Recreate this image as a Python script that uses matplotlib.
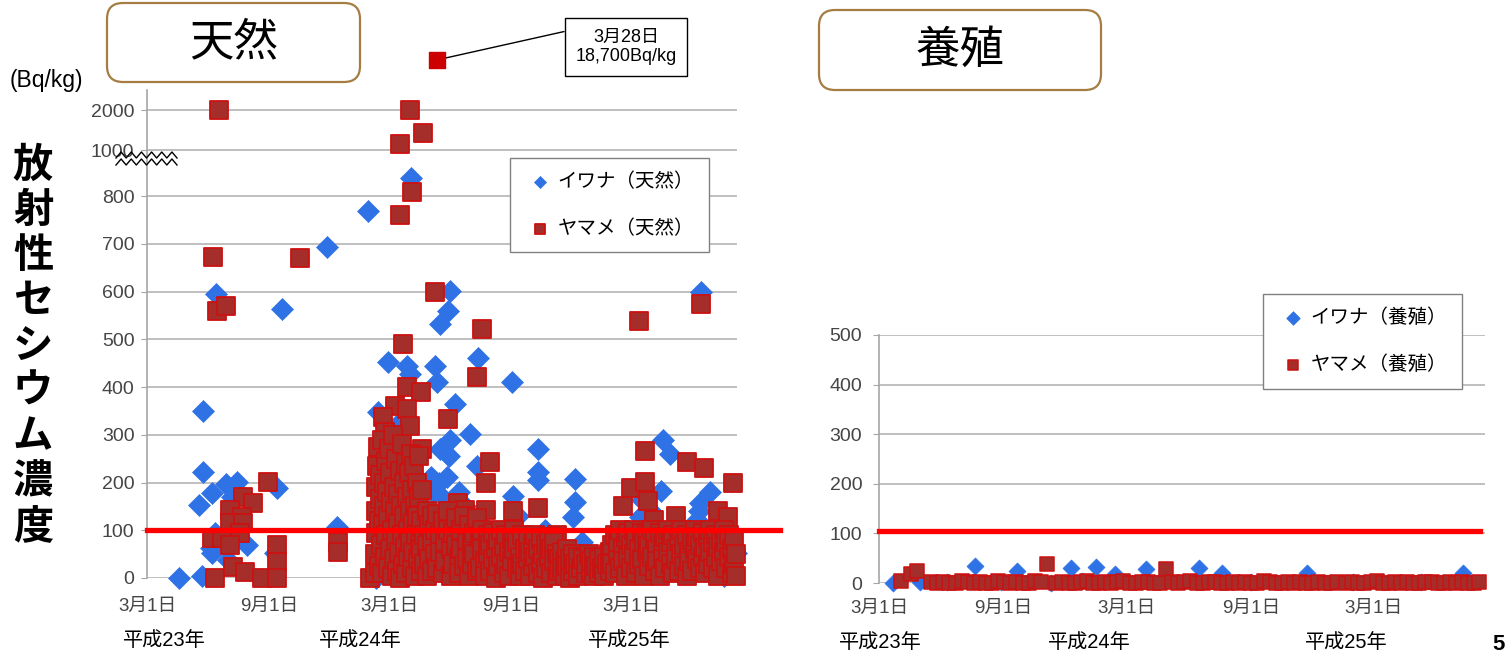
import numpy as np
import matplotlib.pyplot as plt
from matplotlib.lines import Line2D
from matplotlib.patches import FancyBboxPatch

plt.rcParams['font.family'] = ['Liberation Sans', 'Noto Sans CJK JP']

# x = days since 2011-03-01, y = Bq/kg
START = np.datetime64('2011-03-01')
tick_dates = ['2011-03-01', '2011-09-01', '2012-03-01', '2012-09-01', '2013-03-01']
tick_labels = ['3月1日', '9月1日', '3月1日', '9月1日', '3月1日']
year_labels = ['平成23年', '平成24年', '平成25年']

# ---- wild (天然) ----
iwana_wild = [
    # 2011
    (48, 0), (83, 5), (84, 350), (84, 221), (78, 152), (98, 179), (104, 594),
    (98, 52), (96, 62), (103, 95), (119, 196), (136, 202), (128, 170), (122, 38),
    (151, 70), (196, 189), (193, 52), (204, 564), (271, 693), (287, 107),
    # 2012
    (333, 768), (348, 347), (381, 326), (363, 452), (392, 444), (397, 427), (398, 880),
    (434, 444), (437, 410), (442, 532), (454, 560), (457, 602), (465, 364),
    (457, 290), (442, 270), (455, 255), (428, 212), (440, 200), (453, 212),
    (445, 170), (460, 150), (430, 180),
    (427, 128), (499, 461), (487, 301), (498, 234), (550, 410), (552, 171),
    (590, 270), (590, 221), (590, 206), (540, 74), (646, 208), (646, 160),
    (643, 128), (656, 76), (470, 180), (480, 150), (500, 120), (520, 90),
    (560, 130), (600, 100), (620, 60),
    (345, 0), (380, 10), (420, 20), (470, 40), (520, 30), (560, 15), (600, 5),
    (640, 20), (680, 30),
    # 2013
    (778, 290), (789, 259), (776, 182), (849, 180), (834, 158), (836, 600),
    (830, 122), (744, 128), (784, 90), (889, 52), (757, 110), (760, 140),
    (832, 140), (850, 95), (870, 80), (720, 10), (760, 40), (800, 25),
    (840, 15), (870, 5), (885, 60), (747, 164),
]

yamame_wild = [
    # 2011
    (109, 2050), (100, 672), (231, 670), (105, 560), (119, 570), (182, 202),
    (145, 170), (160, 158), (125, 143), (143, 128), (125, 116), (145, 116),
    (140, 95), (98, 84), (113, 84), (125, 69), (196, 70), (196, 34), (130, 23),
    (148, 13), (103, 0), (173, 0), (196, 0), (288, 75), (288, 55),
    # 2012
    (336, 0), (397, 2050), (416, 1425), (382, 1150), (400, 817), (382, 760),
    (434, 600), (386, 490), (392, 400), (413, 389), (374, 360), (392, 354),
    (356, 337), (454, 332), (397, 318), (359, 305), (415, 270), (357, 255),
    (469, 158), (505, 522), (498, 421), (517, 242), (511, 200), (552, 141),
    (590, 147), (511, 143), (480, 143), (618, 90), (658, 11), (688, 42), (697, 50),
    # 2013
    (742, 539), (836, 573), (751, 267), (814, 242), (840, 231), (884, 200),
    (730, 189), (751, 201), (756, 161), (718, 150), (798, 129), (861, 141),
    (876, 128), (765, 122),
]

# dense cluster, spring 2012
yamame_wild_spring12 = [
    (344, 10), (344, 50), (345, 95), (346, 140), (346, 190), (347, 235), (348, 275),
    (350, 25), (350, 120), (351, 215), (352, 165), (353, 70), (354, 290), (355, 10),
    (356, 110), (357, 200), (358, 150), (359, 45), (360, 245), (361, 90), (362, 180),
    (363, 20), (364, 130), (365, 270), (366, 60), (367, 220), (368, 160), (369, 5),
    (370, 100), (371, 300), (372, 40), (373, 190), (374, 140), (375, 80), (376, 250),
    (377, 15), (378, 175), (379, 115), (380, 55), (381, 225), (382, 0), (383, 150),
    (384, 280), (385, 90), (386, 30), (387, 200), (388, 130), (389, 65), (390, 240),
    (391, 10), (392, 170), (393, 100), (394, 45), (395, 220), (396, 140), (397, 75),
    (398, 260), (399, 20), (400, 185), (401, 115), (402, 55), (403, 235), (404, 150),
    (405, 5), (406, 90), (407, 200), (408, 130), (409, 40), (410, 255), (411, 170),
    (412, 70), (413, 110), (414, 15), (415, 185),
]

# low values, mid 2012 - summer 2013
yamame_wild_low = [
    (414, 120), (414, 60), (418, 90), (418, 30), (422, 140), (422, 70), (422, 5),
    (426, 110), (426, 40), (430, 130), (430, 80), (430, 15), (434, 100), (434, 50),
    (438, 135), (438, 20), (442, 90), (442, 55), (446, 120), (446, 10), (450, 75),
    (450, 35), (454, 140), (454, 100), (458, 60), (458, 5), (462, 95), (462, 30),
    (466, 125), (466, 70), (470, 45), (470, 10), (474, 100), (474, 60), (478, 130),
    (478, 25), (482, 80), (482, 40), (486, 110), (486, 5), (490, 70), (490, 30),
    (494, 95), (494, 50), (498, 15), (498, 125),
    (502, 85), (502, 20), (506, 60), (506, 100), (510, 35), (510, 5), (514, 90),
    (514, 50), (518, 70), (518, 15), (522, 95), (522, 40), (526, 60), (526, 0),
    (530, 80), (530, 25), (534, 100), (534, 45), (538, 65), (538, 10), (542, 90),
    (542, 30), (546, 55), (546, 5), (550, 80), (550, 35), (554, 100), (554, 60),
    (558, 20), (558, 75), (562, 45), (562, 5), (566, 90), (566, 30), (570, 60),
    (570, 15), (574, 80), (574, 40), (578, 55), (578, 5), (582, 70), (582, 25),
    (586, 90), (586, 45), (590, 60), (590, 10), (594, 80), (594, 30), (598, 50),
    (598, 0), (602, 70), (602, 20), (606, 45), (606, 85), (610, 10), (610, 60),
    (614, 35), (614, 75), (618, 50), (618, 5), (622, 40), (622, 15),
    (626, 55), (626, 20), (630, 35), (630, 5), (634, 60), (634, 25), (638, 40),
    (638, 0), (642, 50), (642, 15), (646, 30), (650, 45), (650, 5), (654, 20),
    (658, 40), (662, 10), (662, 30), (666, 50), (670, 15), (670, 35), (674, 5),
    (674, 45), (678, 25), (682, 40), (682, 10), (686, 20), (690, 45), (690, 5),
    (694, 30), (698, 15), (698, 55),
    (702, 70), (702, 30), (706, 90), (706, 10), (710, 50), (710, 75), (714, 20),
    (714, 100), (718, 60), (718, 35), (722, 85), (722, 5), (726, 45), (726, 95),
    (730, 70), (730, 20), (734, 100), (734, 50), (738, 80), (738, 10), (742, 60),
    (742, 30), (746, 95), (746, 40), (750, 75), (750, 5), (754, 55), (754, 90),
    (758, 25), (758, 70), (762, 100), (762, 45), (766, 80), (766, 15), (770, 60),
    (770, 35), (774, 95), (774, 5), (778, 70), (778, 40), (782, 85), (782, 20),
    (786, 55), (786, 100), (790, 30), (790, 75), (794, 90), (794, 10), (798, 60),
    (798, 40), (802, 80), (802, 15), (806, 100), (806, 50), (810, 70), (810, 25),
    (814, 90), (814, 5), (818, 55), (818, 35), (822, 80), (822, 15), (826, 100),
    (826, 60), (830, 40), (830, 85), (834, 20), (834, 70), (838, 95), (838, 45),
    (842, 65), (842, 10), (846, 85), (846, 30), (850, 55), (850, 100), (854, 75),
    (854, 20), (858, 45), (858, 90), (862, 65), (862, 5), (866, 80), (866, 35),
    (870, 100), (870, 55), (874, 20), (874, 75), (878, 45), (878, 90), (882, 60),
    (882, 10), (886, 30), (886, 80), (888, 5), (888, 50),
]

# the off-scale sample (3月28日, 18,700Bq/kg)
yamame_peak = (437, 18700)
peak_label = '3月28日\n18,700Bq/kg'

# ---- farmed (養殖) ----
iwana_farm = [
    (21, 0), (60, 2), (100, 3), (142, 34), (180, 2), (204, 24), (254, 0), (284, 30),
    (300, 5), (321, 32), (348, 18), (395, 28), (420, 4), (473, 30), (507, 20),
    (550, 3), (632, 20), (700, 2), (800, 3), (862, 20),
]
yamame_farm = [
    (32, 4), (47, 18), (56, 24), (248, 38), (424, 28),
    (77, 2), (86, 0), (95, 3), (104, 1), (113, 0), (122, 4), (131, 2), (140, 0),
    (149, 3), (158, 1), (167, 0), (176, 5), (185, 2), (194, 0), (203, 3), (212, 1),
    (221, 0), (230, 4), (239, 2),
    (262, 0), (271, 3), (280, 1), (289, 0), (298, 2), (307, 4), (316, 0), (325, 1),
    (334, 3), (343, 0), (352, 2), (361, 5), (370, 1), (379, 0), (388, 3), (397, 2),
    (406, 0), (415, 1), (433, 3),
    (442, 0), (451, 2), (460, 4), (469, 1), (478, 0), (487, 3), (496, 2), (505, 0),
    (514, 1), (523, 3), (532, 0), (541, 2), (550, 1), (559, 0), (568, 4), (577, 2),
    (586, 0), (595, 1), (604, 3), (613, 0), (622, 2), (631, 1), (640, 0), (649, 3),
    (658, 1), (667, 0), (676, 2),
    (690, 0), (699, 3), (708, 1), (717, 0), (726, 2), (735, 4), (744, 0), (753, 1),
    (762, 3), (771, 0), (780, 2), (789, 1), (798, 0), (807, 3), (816, 2), (825, 0),
    (834, 1), (843, 3), (852, 0), (861, 2), (870, 1), (879, 0), (886, 3),
]

LIMIT = 100          # 基準値 100Bq/kg
LIMIT_FARM_DRAWN = 105

BLUE = '#2f72e6'
RED_FILL = '#a52d2a'
RED_EDGE = '#cc1111'
GRID = '#bfbfbf'
TXT = '#454545'

W, H = 1506, 656
fig = plt.figure(figsize=(W / 100, H / 100), dpi=100)


def px_box(x0, y0, x1, y1):
    return [x0 / W, 1 - y1 / H, (x1 - x0) / W, (y1 - y0) / H]


# broken y scale on the wild chart: 0-800 linear, then squeezed
real_pts = [-1000, 800, 1000, 2000, 18700, 400000]
map_pts = [-1000, 800, 896, 980, 1085, 1085 + (400000 - 18700) * 105 / 16700]


def fwd(v):
    return np.interp(v, real_pts, map_pts)


def inv(u):
    return np.interp(u, map_pts, real_pts)


tick_days = (np.array(tick_dates, dtype='datetime64[D]') - START).astype(int)

ax1 = fig.add_axes(px_box(147, 90, 737, 578))
ax2 = fig.add_axes(px_box(879, 335, 1485, 583))

ax1.set_yscale('function', functions=(fwd, inv))
ax1.set_ylim(0, 8700)
ax1.set_yticks([0, 100, 200, 300, 400, 500, 600, 700, 800, 1000, 2000])
ax1.set_xlim(0, 890)

ax2.set_ylim(0, 500)
ax2.set_yticks([0, 100, 200, 300, 400, 500])
ax2.set_xlim(0, 895)

for ax in (ax1, ax2):
    for s in ('top', 'right', 'bottom'):
        ax.spines[s].set_visible(False)
    ax.spines['left'].set_color('#a6a6a6')
    ax.spines['left'].set_linewidth(1.2)
    ax.grid(axis='y', color=GRID, lw=1.4)
    ax.set_axisbelow(True)
    ax.tick_params(axis='y', length=4, color='#a6a6a6', labelcolor=TXT, labelsize=14, pad=5)
    ax.tick_params(axis='x', length=0, labelcolor=TXT, labelsize=13.5, pad=14)
    ax.set_xticks(tick_days)
    ax.set_xticklabels(tick_labels)
ax2.tick_params(axis='y', pad=8)
ax2.tick_params(axis='x', pad=12)


def xy(pairs):
    a = np.array(pairs, dtype=float)
    return a[:, 0], a[:, 1]


# wild
x, y = xy(iwana_wild)
h_iw = ax1.scatter(x, y, marker='D', s=125, color=BLUE, lw=0.5, clip_on=False, zorder=3)
x, y = xy(yamame_wild + yamame_wild_spring12 + yamame_wild_low)
h_ym = ax1.scatter(x, y, marker='s', s=150, facecolor=RED_FILL, edgecolor=RED_EDGE,
                   lw=1.3, clip_on=False, zorder=4)
ax1.scatter([yamame_peak[0]], [yamame_peak[1]], marker='s', s=140, color='#cc0000',
            clip_on=False, zorder=4)
ax1.plot([0, 955], [LIMIT, LIMIT], color='#ff0000', lw=3.8, clip_on=False, zorder=6)

ax1.annotate(peak_label, xy=yamame_peak, xycoords='data',
             xytext=(626, H - 47), textcoords='figure pixels',
             ha='center', va='center', fontsize=13, linespacing=1.15,
             bbox=dict(boxstyle='square,pad=0.6', fc='white', ec='black', lw=1),
             arrowprops=dict(arrowstyle='-', color='black', lw=1, relpos=(0, 1),
                             shrinkA=0, shrinkB=6),
             annotation_clip=False)

leg1 = ax1.legend([h_iw, h_ym], ['イワナ（天然）', 'ヤマメ（天然）'],
                  loc='upper left', bbox_to_anchor=(510 / W, 1 - 158 / H),
                  bbox_transform=fig.transFigure, borderaxespad=0,
                  fontsize=14, markerscale=0.55, handlelength=1.6, handletextpad=0.1,
                  borderpad=0.75, labelspacing=1.45, fancybox=False, framealpha=1,
                  edgecolor='#808080')
leg1.get_frame().set_linewidth(1.0)

# farmed
x, y = xy(iwana_farm)
h_iw2 = ax2.scatter(x, y, marker='D', s=75, color=BLUE, lw=0.5, clip_on=False, zorder=3)
x, y = xy(yamame_farm)
h_ym2 = ax2.scatter(x, y, marker='s', s=90, facecolor=RED_FILL, edgecolor=RED_EDGE,
                    lw=1.1, clip_on=False, zorder=4)
ax2.plot([0, 888], [LIMIT_FARM_DRAWN, LIMIT_FARM_DRAWN], color='#ff0000', lw=3.8,
         clip_on=False, zorder=6)

leg2 = ax2.legend([h_iw2, h_ym2], ['イワナ（養殖）', 'ヤマメ（養殖）'],
                  loc='upper left', bbox_to_anchor=(1263 / W, 1 - 294 / H),
                  bbox_transform=fig.transFigure, borderaxespad=0,
                  fontsize=14, markerscale=0.8, handlelength=1.6, handletextpad=0.1,
                  borderpad=0.75, labelspacing=1.45, fancybox=False, framealpha=1,
                  edgecolor='#808080')
leg2.get_frame().set_linewidth(1.0)

# title boxes
for (x0, y0, x1, y1), title in [((107, 3, 360, 82), '天然'), ((819, 10, 1101, 90), '養殖')]:
    box = FancyBboxPatch((x0 / 100, (H - y1) / 100), (x1 - x0) / 100, (y1 - y0) / 100,
                         boxstyle='round,pad=0,rounding_size=0.16',
                         transform=fig.dpi_scale_trans, fc='white', ec='#a57c42', lw=1.6)
    fig.add_artist(box)
    fig.text((x0 + x1) / 2 / W, 1 - (y0 + y1) / 2 / H, title, ha='center', va='center',
             fontsize=32, family=['Noto Sans CJK JP'])

# vertical y-axis caption
ylabel = '放射性セシウム濃度'
for i, ch in enumerate(ylabel):
    fig.text(33 / W, 1 - (165 + i * 45.3) / H, ch, ha='center', va='center',
             fontsize=29, weight='bold', family=['Noto Sans CJK JP'])
fig.text(10 / W, 1 - 80 / H, '(Bq/kg)', ha='left', va='center', fontsize=16.5)

# year labels under the date ticks
for cx, lab in zip([164, 360, 629], year_labels):
    fig.text(cx / W, 1 - 640 / H, lab, ha='center', va='center', fontsize=14.5)
for cx, lab in zip([880, 1089, 1346], year_labels):
    fig.text(cx / W, 1 - 643 / H, lab, ha='center', va='center', fontsize=14.5)

# axis break mark near 1000
wx = np.linspace(116, 177, 13)
for yc in (155, 162):
    wy = yc + np.where(np.arange(13) % 2 == 0, 3, -3)
    fig.add_artist(Line2D(wx / W, 1 - wy / H, color='black', lw=1.0,
                          transform=fig.transFigure))

# slide number at the page edge
fig.text(1505 / W, 1 - 644 / H, '5', ha='right', va='center', fontsize=16, weight='bold')

fig.savefig('out.png', dpi=100)
